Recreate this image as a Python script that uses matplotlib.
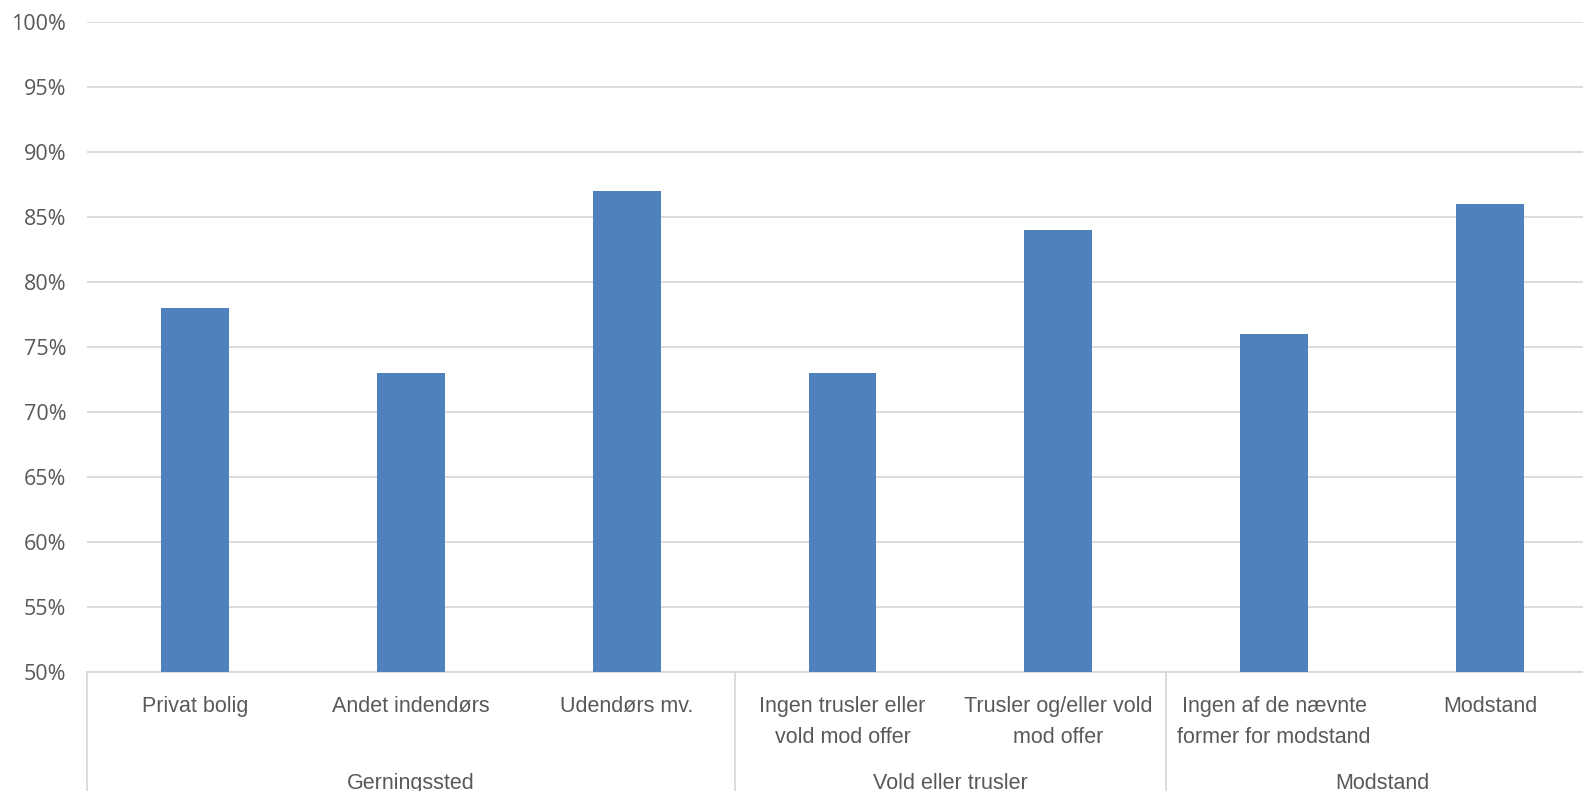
import numpy as np
import matplotlib
matplotlib.use("Agg")
from matplotlib import pyplot as plt
from matplotlib import font_manager

# data
labels = ["Privat bolig", "Andet indendørs", "Udendørs mv.",
          "Ingen trusler eller\nvold mod offer", "Trusler og/eller vold\nmod offer",
          "Ingen af de nævnte\nformer for modstand", "Modstand"]
values = [78, 73, 87, 73, 84, 76, 86]
groups = ["Gerningssted", "Vold eller trusler", "Modstand"]
group_sizes = [3, 2, 2]
yticks = [50, 55, 60, 65, 70, 75, 80, 85, 90, 95, 100]

names = {f.name for f in font_manager.fontManager.ttflist}
cat_font = "Liberation Sans Narrow" if "Liberation Sans Narrow" in names else "Liberation Sans"
tick_font = "Open Sans"

grey = "#595959"
bar_col = "#4F81BD"
grid_col = "#D9D9D9"

W, H = 1583, 791
fig = plt.figure(figsize=(W / 100, H / 100), dpi=100)
# plot area runs past the right edge of the picture, as in the reference
left, right, top, bottom = 87, 1598, 22, 672
ax = fig.add_axes([left / W, 1 - bottom / H, (right - left) / W, (bottom - top) / H])

x = np.arange(len(values))
ax.bar(x, values, width=0.314, color=bar_col, zorder=3)

ax.set_xlim(-0.5, len(values) - 0.5)
ax.set_ylim(50, 100)
ax.set_yticks(yticks)
ax.set_yticklabels(["%d%%" % t for t in yticks], fontsize=15.5, color=grey, family=tick_font)
ax.tick_params(axis="y", length=0, pad=15)
ax.tick_params(axis="x", length=0)
ax.set_xticks([])
ax.grid(axis="y", color=grid_col, linewidth=1.3, zorder=0)
for s in ["top", "right", "left"]:
    ax.spines[s].set_visible(False)
ax.spines["bottom"].set_color(grid_col)
ax.spines["bottom"].set_linewidth(1.3)

trans = ax.get_xaxis_transform()
# category labels
for xi, lab in zip(x, labels):
    ax.text(xi, -0.037, lab, transform=trans, ha="center", va="top",
            fontsize=15.5, color=grey, family=cat_font, linespacing=1.6)

# group labels and separators
start = 0
bounds = [-0.5]
for g, n in zip(groups, group_sizes):
    mid = start + (n - 1) / 2
    ax.text(mid, -0.155, g, transform=trans, ha="center", va="top",
            fontsize=15.5, color=grey, family=cat_font)
    start += n
    bounds.append(start - 0.5)
for b in bounds[:-1]:
    ax.plot([b, b], [0, -0.2], transform=trans, color=grid_col, linewidth=1.3, clip_on=False)

fig.savefig("out.png", dpi=100)
